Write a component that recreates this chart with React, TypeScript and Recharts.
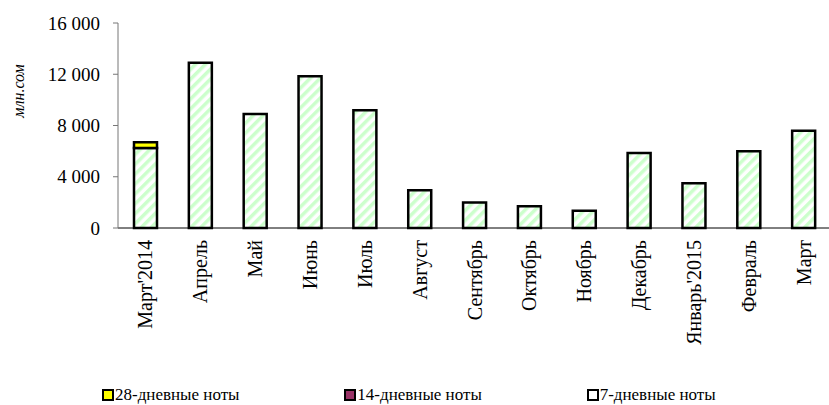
import React from "react";
import {Bar, BarChart, Legend, XAxis, YAxis} from "recharts";

const months = ["Март'2014", "Апрель", "Май", "Июнь", "Июль", "Август", "Сентябрь", "Октябрь", "Ноябрь", "Декабрь", "Январь'2015", "Февраль", "Март"];
const notes7 = [6250, 12900, 8900, 11850, 9200, 2950, 2000, 1700, 1350, 5850, 3500, 6000, 7600];
const notes14 = [0, 0, 0, 0, 0, 0, 0, 0, 0, 0, 0, 0, 0];
const notes28 = [450, 0, 0, 0, 0, 0, 0, 0, 0, 0, 0, 0, 0];
const yTicks = [0, 4000, 8000, 12000, 16000];
const boundaryTicks = [1, 2, 3, 4, 5, 6, 7, 8, 9, 10, 11, 12, 13];

const data = months.map((m, i) => ({month: m, n7: notes7[i], n14: notes14[i], n28: notes28[i]}));

const font = "Liberation Serif";

const legendItems = [
    {label: "28-дневные ноты", color: "#ffff00"},
    {label: "14-дневные ноты", color: "#993366"},
    {label: "7-дневные ноты", color: "#ffffff"},
];

const fmt = (v: number) => String(v).replace(/\B(?=(\d{3})+(?!\d))/g, " ");

const MonthTick = (props: any) => {
    const {x, y, payload} = props;
    return (
        <text x={x} y={y} transform={`rotate(-90 ${x} ${y})`} textAnchor="end" dominantBaseline="central"
              fontFamily={font} fontSize={20} fill="#000">
            {payload.value}
        </text>
    );
};

const YTick = (props: any) => {
    const {x, y, payload} = props;
    return (
        <text x={x} y={y} textAnchor="end" dominantBaseline="central" fontFamily={font} fontSize={19} fill="#000">
            {fmt(payload.value)}
        </text>
    );
};

const ChartLegend = () => (
    <div style={{display: "flex", paddingLeft: 102, height: 20, alignItems: "center", fontFamily: font, fontSize: 17, color: "#000"}}>
        {legendItems.map(item => (
            <div key={item.label} style={{width: 249, display: "flex", alignItems: "center", fontFamily: font}}>
                <span style={{width: 8, height: 8, border: "2px solid #000", background: item.color, marginRight: 1}}/>
                {item.label}
            </div>
        ))}
    </div>
);

const App = () => (
    <div style={{position: "absolute", left: 0, top: 0, width: 829, height: 405, overflow: "hidden", background: "#fff", fontFamily: font}}>
        <BarChart width={831} height={405} data={data} margin={{top: 23, right: 0, left: 0, bottom: 0}}>
            <defs>
                <pattern id="hatch" patternUnits="userSpaceOnUse" width="7" height="7" patternTransform="rotate(45)">
                    <rect width="7" height="7" fill="#ffffff"/>
                    <rect width="3.5" height="7" fill="#ccffcc"/>
                </pattern>
            </defs>
            <XAxis xAxisId="b" type="number" domain={[0, 13]} allowDataOverflow ticks={boundaryTicks}
                   height={0} axisLine={false} tick={false} tickSize={5} tickLine={{stroke: "#777"}}/>
            <XAxis xAxisId="c" dataKey="month" height={157} interval={0} tickLine={false} tickSize={0}
                   tickMargin={12} axisLine={{stroke: "#000"}} tick={<MonthTick/>}/>
            <YAxis width={118} domain={[0, 16000]} ticks={yTicks} tickSize={5} tickMargin={13}
                   axisLine={{stroke: "#777"}} tickLine={{stroke: "#777"}} tick={<YTick/>}
                   label={() => (
                       <text x={18} y={91} transform="rotate(-90 18 91)" textAnchor="middle" dominantBaseline="central"
                             fontFamily={font} fontSize={16} fontStyle="italic" fill="#000">млн.сом</text>
                   )}/>
            <Legend verticalAlign="bottom" content={<ChartLegend/>} wrapperStyle={{left: 0, width: 829}}/>
            <Bar xAxisId="c" dataKey="n7" name="7-дневные ноты" stackId="a" fill="url(#hatch)" stroke="#000"
                 strokeWidth={2.5} barSize={23} isAnimationActive={false}/>
            <Bar xAxisId="c" dataKey="n14" name="14-дневные ноты" stackId="a" fill="#993366" stroke="#000"
                 strokeWidth={2.5} barSize={23} isAnimationActive={false}/>
            <Bar xAxisId="c" dataKey="n28" name="28-дневные ноты" stackId="a" fill="#ffff00" stroke="#000"
                 strokeWidth={2.5} barSize={23} isAnimationActive={false}/>
        </BarChart>
    </div>
);

export default App;
